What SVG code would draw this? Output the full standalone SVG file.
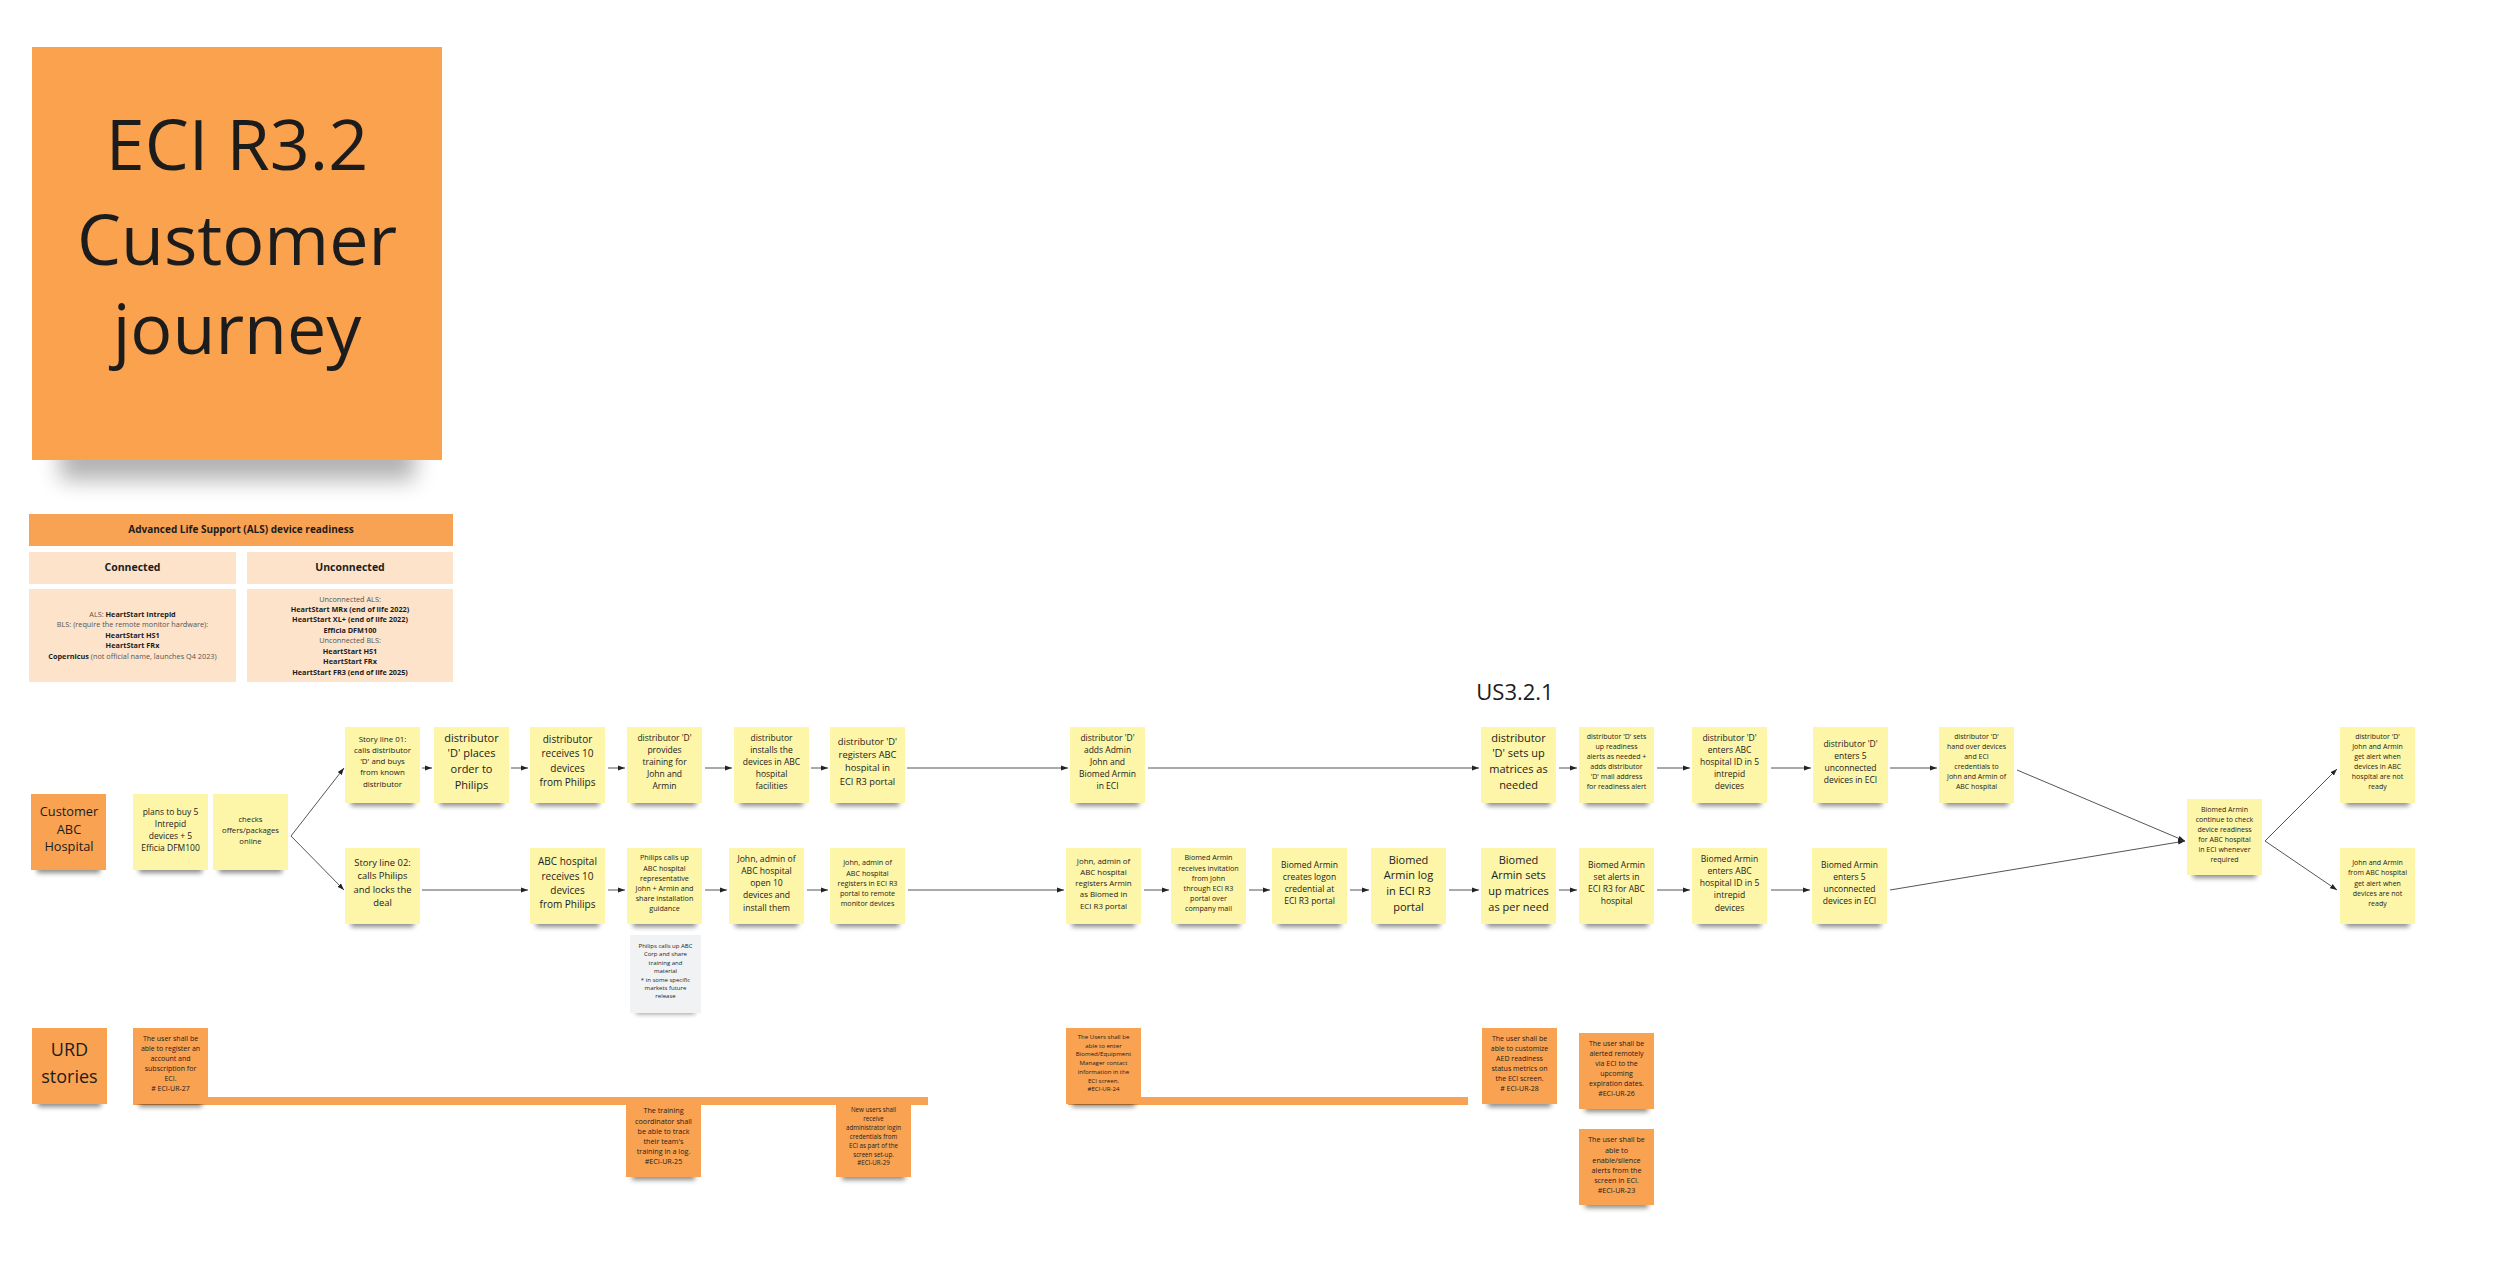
<svg xmlns="http://www.w3.org/2000/svg" xmlns:xlink="http://www.w3.org/1999/xlink" width="2500" height="1262" viewBox="0 0 2500 1262">
<style>
text{font-family:"Open Sans","Noto Sans","Liberation Sans",sans-serif;fill:#1c1c1c;text-anchor:middle}
.b{font-weight:bold}
.g{fill:#555}
.cn{fill:none;stroke:#555;stroke-width:1}
.bar{fill:#F8A253}
.cell{fill:#FDE3C9}
</style>
<defs>
<filter id="bl" x="-30%" y="-100%" width="160%" height="300%"><feGaussianBlur stdDeviation="2.5"/></filter>
<filter id="bl2" x="-30%" y="-100%" width="160%" height="300%"><feGaussianBlur stdDeviation="11"/></filter>
<marker id="ah" markerUnits="userSpaceOnUse" markerWidth="7" markerHeight="6" refX="7" refY="3" orient="auto"><path d="M0,0.5 L7,3 L0,5.5 z" fill="#222"/></marker>
<g id="sy"><rect x="6" y="70" width="63" height="9" fill="#000" opacity="0.45" filter="url(#bl)"/><rect width="75" height="76" fill="#FDF5A8"/></g>
<g id="so"><rect x="6" y="70" width="63" height="9" fill="#000" opacity="0.45" filter="url(#bl)"/><rect width="75" height="76" fill="#F9A252"/></g>
</defs>
<rect width="2500" height="1262" fill="#fff"/>

<g id="title">
<rect x="60" y="438" width="355" height="42" fill="#000" opacity="0.3" filter="url(#bl2)"/>
<rect x="32" y="47" width="410" height="413" fill="#FBA24F"/>
<text x="237" y="170" font-size="70">ECI R3.2</text>
<text x="237" y="265" font-size="70">Customer</text>
<text x="237" y="354" font-size="70">journey</text>
</g>

<g id="als-table">
<rect class="bar" x="29" y="514" width="424" height="32"/>
<text class="b" x="241" y="533" font-size="10">Advanced Life Support (ALS) device readiness</text>
<rect class="cell" x="29" y="552" width="207" height="32"/>
<rect class="cell" x="247" y="552" width="206" height="32"/>
<text class="b" x="132.5" y="571" font-size="10.5">Connected</text>
<text class="b" x="350" y="571" font-size="10.5">Unconnected</text>
<rect class="cell" x="29" y="589" width="207" height="93"/>
<rect class="cell" x="247" y="589" width="206" height="93"/>
<g font-size="7.3">
<text x="132.5" y="616.5"><tspan class="g">ALS: </tspan><tspan class="b">HeartStart Intrepid</tspan></text>
<text x="132.5" y="627" class="g">BLS: (require the remote monitor hardware):</text>
<text x="132.5" y="637.5" class="b">HeartStart HS1</text>
<text x="132.5" y="648" class="b">HeartStart FRx</text>
<text x="132.5" y="658.5"><tspan class="b">Copernicus</tspan><tspan class="g"> (not official name, launches Q4 2023)</tspan></text>
<text x="350" y="601.5" class="g">Unconnected ALS:</text>
<text x="350" y="612" class="b">HeartStart MRx (end of life 2022)</text>
<text x="350" y="622.3" class="b">HeartStart XL+ (end of life 2022)</text>
<text x="350" y="632.6" class="b">Efficia DFM100</text>
<text x="350" y="643.2" class="g">Unconnected BLS:</text>
<text x="350" y="653.5" class="b">HeartStart HS1</text>
<text x="350" y="664.2" class="b">HeartStart FRx</text>
<text x="350" y="674.8" class="b">HeartStart FR3 (end of life 2025)</text>
</g>
</g>

<text id="us-label" x="1515" y="700" font-size="22">US3.2.1</text>

<g id="connectors">
<path class="cn" marker-end="url(#ah)" d="M291,836 L344,768"/>
<path class="cn" marker-end="url(#ah)" d="M291,836 L344,890"/>
<path class="cn" marker-end="url(#ah)" d="M422,768 H432"/>
<path class="cn" marker-end="url(#ah)" d="M511,768 H528"/>
<path class="cn" marker-end="url(#ah)" d="M608,768 H625"/>
<path class="cn" marker-end="url(#ah)" d="M705,768 H732"/>
<path class="cn" marker-end="url(#ah)" d="M811,768 H828"/>
<path class="cn" marker-end="url(#ah)" d="M907,768 H1068"/>
<path class="cn" marker-end="url(#ah)" d="M1148,768 H1479"/>
<path class="cn" marker-end="url(#ah)" d="M1559,768 H1577"/>
<path class="cn" marker-end="url(#ah)" d="M1657,768 H1690"/>
<path class="cn" marker-end="url(#ah)" d="M1771,768 H1811"/>
<path class="cn" marker-end="url(#ah)" d="M1890,768 H1937"/>
<path class="cn" marker-end="url(#ah)" d="M2017,770 L2185,841"/>
<path class="cn" marker-end="url(#ah)" d="M422,890 H528"/>
<path class="cn" marker-end="url(#ah)" d="M608,890 H625"/>
<path class="cn" marker-end="url(#ah)" d="M705,890 H727"/>
<path class="cn" marker-end="url(#ah)" d="M807,890 H828"/>
<path class="cn" marker-end="url(#ah)" d="M908,890 H1064"/>
<path class="cn" marker-end="url(#ah)" d="M1144,890 H1169"/>
<path class="cn" marker-end="url(#ah)" d="M1249,890 H1270"/>
<path class="cn" marker-end="url(#ah)" d="M1350,890 H1369"/>
<path class="cn" marker-end="url(#ah)" d="M1449,890 H1479"/>
<path class="cn" marker-end="url(#ah)" d="M1559,890 H1577"/>
<path class="cn" marker-end="url(#ah)" d="M1657,890 H1690"/>
<path class="cn" marker-end="url(#ah)" d="M1771,890 H1810"/>
<path class="cn" marker-end="url(#ah)" d="M1890,890 L2185,841"/>
<path class="cn" marker-end="url(#ah)" d="M2265,841 L2337,769"/>
<path class="cn" marker-end="url(#ah)" d="M2265,841 L2337,890"/>
</g>

<g id="urd-bars">
<rect class="bar" x="133" y="1097" width="795" height="8"/>
<rect class="bar" x="1068" y="1097" width="400" height="8"/>
</g>

<g id="n-customer"><use xlink:href="#so" x="31" y="794"/><text x="69" y="816" font-size="12.8"><tspan x="69">Customer</tspan><tspan x="69" dy="17.7">ABC</tspan><tspan x="69" dy="17.7">Hospital</tspan></text></g>
<g id="n-plans"><use xlink:href="#sy" x="133" y="794"/><text x="170.5" y="815" font-size="8.5"><tspan x="170.5">plans to buy 5</tspan><tspan x="170.5" dy="12">Intrepid</tspan><tspan x="170.5" dy="12">devices + 5</tspan><tspan x="170.5" dy="12">Efficia DFM100</tspan></text></g>
<g id="n-checks"><use xlink:href="#sy" x="213" y="794"/><text x="250.5" y="821.5" font-size="7.7"><tspan x="250.5">checks</tspan><tspan x="250.5" dy="11">offers/packages</tspan><tspan x="250.5" dy="11">online</tspan></text></g>

<g id="n-story01"><use xlink:href="#sy" x="345" y="727"/><text x="382.5" y="741.5" font-size="7.9"><tspan x="382.5">Story line 01:</tspan><tspan x="382.5" dy="11.3">calls distributor</tspan><tspan x="382.5" dy="11.3">'D' and buys</tspan><tspan x="382.5" dy="11.3">from known</tspan><tspan x="382.5" dy="11.3">distributor</tspan></text></g>
<g id="n-places"><use xlink:href="#sy" x="434" y="727"/><text x="471.5" y="741.5" font-size="11"><tspan x="471.5">distributor</tspan><tspan x="471.5" dy="15.7">'D'  places</tspan><tspan x="471.5" dy="15.7">order to</tspan><tspan x="471.5" dy="15.7">Philips</tspan></text></g>
<g id="n-receives"><use xlink:href="#sy" x="530" y="727"/><text x="567.5" y="743" font-size="10"><tspan x="567.5">distributor</tspan><tspan x="567.5" dy="14.4">receives 10</tspan><tspan x="567.5" dy="14.4">devices</tspan><tspan x="567.5" dy="14.4">from Philips</tspan></text></g>
<g id="n-training"><use xlink:href="#sy" x="627" y="727"/><text x="664.5" y="740.7" font-size="8.5"><tspan x="664.5">distributor 'D'</tspan><tspan x="664.5" dy="12">provides</tspan><tspan x="664.5" dy="12">training for</tspan><tspan x="664.5" dy="12">John and</tspan><tspan x="664.5" dy="12">Armin</tspan></text></g>
<g id="n-installs"><use xlink:href="#sy" x="734" y="727"/><text x="771.5" y="740.7" font-size="8.5"><tspan x="771.5">distributor</tspan><tspan x="771.5" dy="12">installs the</tspan><tspan x="771.5" dy="12">devices in ABC</tspan><tspan x="771.5" dy="12">hospital</tspan><tspan x="771.5" dy="12">facilities</tspan></text></g>
<g id="n-registers"><use xlink:href="#sy" x="830" y="727"/><text x="867.5" y="745" font-size="9.3"><tspan x="867.5">distributor 'D'</tspan><tspan x="867.5" dy="13.2">registers ABC</tspan><tspan x="867.5" dy="13.2">hospital in</tspan><tspan x="867.5" dy="13.2">ECI R3 portal</tspan></text></g>
<g id="n-addadmin"><use xlink:href="#sy" x="1070" y="727"/><text x="1107.5" y="740.7" font-size="8.5"><tspan x="1107.5">distributor 'D'</tspan><tspan x="1107.5" dy="12">adds Admin</tspan><tspan x="1107.5" dy="12">John and</tspan><tspan x="1107.5" dy="12">Biomed Armin</tspan><tspan x="1107.5" dy="12">in ECI</tspan></text></g>
<g id="n-matrices"><use xlink:href="#sy" x="1481" y="727"/><text x="1518.5" y="741.5" font-size="11"><tspan x="1518.5">distributor</tspan><tspan x="1518.5" dy="15.7">'D' sets up</tspan><tspan x="1518.5" dy="15.7">matrices as</tspan><tspan x="1518.5" dy="15.7">needed</tspan></text></g>
<g id="n-readiness"><use xlink:href="#sy" x="1579" y="727"/><text x="1616.5" y="739.2" font-size="7"><tspan x="1616.5">distributor 'D' sets</tspan><tspan x="1616.5" dy="10">up readiness</tspan><tspan x="1616.5" dy="10">alerts as needed +</tspan><tspan x="1616.5" dy="10">adds distributor</tspan><tspan x="1616.5" dy="10">'D' mail address</tspan><tspan x="1616.5" dy="10">for readiness alert</tspan></text></g>
<g id="n-entersabc"><use xlink:href="#sy" x="1692" y="727"/><text x="1729.5" y="740.7" font-size="8.5"><tspan x="1729.5">distributor 'D'</tspan><tspan x="1729.5" dy="12">enters ABC</tspan><tspan x="1729.5" dy="12">hospital ID in 5</tspan><tspan x="1729.5" dy="12">intrepid</tspan><tspan x="1729.5" dy="12">devices</tspan></text></g>
<g id="n-enters5"><use xlink:href="#sy" x="1813" y="727"/><text x="1850.5" y="746.7" font-size="8.5"><tspan x="1850.5">distributor 'D'</tspan><tspan x="1850.5" dy="12">enters  5</tspan><tspan x="1850.5" dy="12">unconnected</tspan><tspan x="1850.5" dy="12">devices in ECI</tspan></text></g>
<g id="n-handover"><use xlink:href="#sy" x="1939" y="727"/><text x="1976.5" y="739.2" font-size="7"><tspan x="1976.5">distributor 'D'</tspan><tspan x="1976.5" dy="10">hand over devices</tspan><tspan x="1976.5" dy="10">and ECI</tspan><tspan x="1976.5" dy="10">credentials to</tspan><tspan x="1976.5" dy="10">John and Armin of</tspan><tspan x="1976.5" dy="10">ABC hospital</tspan></text></g>
<g id="n-continue"><use xlink:href="#sy" x="2187" y="799"/><text x="2224.5" y="812.2" font-size="7"><tspan x="2224.5">Biomed Armin</tspan><tspan x="2224.5" dy="10">continue to check</tspan><tspan x="2224.5" dy="10">device readiness</tspan><tspan x="2224.5" dy="10">for ABC hospital</tspan><tspan x="2224.5" dy="10">in ECI whenever</tspan><tspan x="2224.5" dy="10">required</tspan></text></g>
<g id="n-alert1"><use xlink:href="#sy" x="2340" y="727"/><text x="2377.5" y="739.2" font-size="7"><tspan x="2377.5">distributor 'D'</tspan><tspan x="2377.5" dy="10">John and Armin</tspan><tspan x="2377.5" dy="10">get alert when</tspan><tspan x="2377.5" dy="10">devices in ABC</tspan><tspan x="2377.5" dy="10">hospital are not</tspan><tspan x="2377.5" dy="10">ready</tspan></text></g>
<g id="n-alert2"><use xlink:href="#sy" x="2340" y="848"/><text x="2377.5" y="865.2" font-size="7"><tspan x="2377.5">John and Armin</tspan><tspan x="2377.5" dy="10.2">from ABC hospital</tspan><tspan x="2377.5" dy="10.2">get alert when</tspan><tspan x="2377.5" dy="10.2">devices are not</tspan><tspan x="2377.5" dy="10.2">ready</tspan></text></g>

<g id="n-story02"><use xlink:href="#sy" x="345" y="848"/><text x="382.5" y="866" font-size="9.4"><tspan x="382.5">Story line 02:</tspan><tspan x="382.5" dy="13.3">calls Philips</tspan><tspan x="382.5" dy="13.3">and locks the</tspan><tspan x="382.5" dy="13.3">deal</tspan></text></g>
<g id="n-abcreceives"><use xlink:href="#sy" x="530" y="848"/><text x="567.5" y="865.2" font-size="10"><tspan x="567.5">ABC hospital</tspan><tspan x="567.5" dy="14.4">receives 10</tspan><tspan x="567.5" dy="14.4">devices</tspan><tspan x="567.5" dy="14.4">from Philips</tspan></text></g>
<g id="n-philipscalls"><use xlink:href="#sy" x="627" y="848"/><text x="664.5" y="860.3" font-size="7.2"><tspan x="664.5">Philips calls up</tspan><tspan x="664.5" dy="10.2">ABC hospital</tspan><tspan x="664.5" dy="10.2">representative</tspan><tspan x="664.5" dy="10.2">John + Armin and</tspan><tspan x="664.5" dy="10.2">share installation</tspan><tspan x="664.5" dy="10.2">guidance</tspan></text></g>
<g id="n-johnopen"><use xlink:href="#sy" x="729" y="848"/><text x="766.5" y="861.8" font-size="8.6"><tspan x="766.5">John, admin of</tspan><tspan x="766.5" dy="12.2">ABC hospital</tspan><tspan x="766.5" dy="12.2">open 10</tspan><tspan x="766.5" dy="12.2">devices and</tspan><tspan x="766.5" dy="12.2">install them</tspan></text></g>
<g id="n-johnremote"><use xlink:href="#sy" x="830" y="848"/><text x="867.5" y="865.3" font-size="7.2"><tspan x="867.5">John, admin of</tspan><tspan x="867.5" dy="10.2">ABC hospital</tspan><tspan x="867.5" dy="10.2">registers in ECI R3</tspan><tspan x="867.5" dy="10.2">portal to remote</tspan><tspan x="867.5" dy="10.2">monitor devices</tspan></text></g>
<g id="n-johnarmin"><use xlink:href="#sy" x="1066" y="848"/><text x="1103.5" y="863.5" font-size="7.9"><tspan x="1103.5">John, admin of</tspan><tspan x="1103.5" dy="11.3">ABC hospital</tspan><tspan x="1103.5" dy="11.3">registers Armin</tspan><tspan x="1103.5" dy="11.3">as Biomed in</tspan><tspan x="1103.5" dy="11.3">ECI R3 portal</tspan></text></g>
<g id="n-invitation"><use xlink:href="#sy" x="1171" y="848"/><text x="1208.5" y="860.3" font-size="7.2"><tspan x="1208.5">Biomed Armin</tspan><tspan x="1208.5" dy="10.2">receives invitation</tspan><tspan x="1208.5" dy="10.2">from John</tspan><tspan x="1208.5" dy="10.2">through ECI R3</tspan><tspan x="1208.5" dy="10.2">portal over</tspan><tspan x="1208.5" dy="10.2">company mail</tspan></text></g>
<g id="n-logon"><use xlink:href="#sy" x="1272" y="848"/><text x="1309.5" y="867.7" font-size="8.5"><tspan x="1309.5">Biomed Armin</tspan><tspan x="1309.5" dy="12">creates logon</tspan><tspan x="1309.5" dy="12">credential at</tspan><tspan x="1309.5" dy="12">ECI R3 portal</tspan></text></g>
<g id="n-login"><use xlink:href="#sy" x="1371" y="848"/><text x="1408.5" y="863.5" font-size="11"><tspan x="1408.5">Biomed</tspan><tspan x="1408.5" dy="15.8">Armin log</tspan><tspan x="1408.5" dy="15.8">in ECI R3</tspan><tspan x="1408.5" dy="15.8">portal</tspan></text></g>
<g id="n-bmatrices"><use xlink:href="#sy" x="1481" y="848"/><text x="1518.5" y="863.5" font-size="11"><tspan x="1518.5">Biomed</tspan><tspan x="1518.5" dy="15.8">Armin sets</tspan><tspan x="1518.5" dy="15.8">up matrices</tspan><tspan x="1518.5" dy="15.8">as per need</tspan></text></g>
<g id="n-setalerts"><use xlink:href="#sy" x="1579" y="848"/><text x="1616.5" y="867.7" font-size="8.5"><tspan x="1616.5">Biomed Armin</tspan><tspan x="1616.5" dy="12">set alerts in</tspan><tspan x="1616.5" dy="12">ECI R3 for ABC</tspan><tspan x="1616.5" dy="12">hospital</tspan></text></g>
<g id="n-bentersabc"><use xlink:href="#sy" x="1692" y="848"/><text x="1729.5" y="861.8" font-size="8.6"><tspan x="1729.5">Biomed Armin</tspan><tspan x="1729.5" dy="12.2">enters ABC</tspan><tspan x="1729.5" dy="12.2">hospital ID in 5</tspan><tspan x="1729.5" dy="12.2">intrepid</tspan><tspan x="1729.5" dy="12.2">devices</tspan></text></g>
<g id="n-benters5"><use xlink:href="#sy" x="1812" y="848"/><text x="1849.5" y="867.7" font-size="8.5"><tspan x="1849.5">Biomed Armin</tspan><tspan x="1849.5" dy="12">enters 5</tspan><tspan x="1849.5" dy="12">unconnected</tspan><tspan x="1849.5" dy="12">devices in ECI</tspan></text></g>

<g id="n-note">
<rect x="636" y="1005" width="59" height="9" fill="#000" opacity="0.4" filter="url(#bl)"/>
<rect x="630" y="935" width="71" height="78" fill="#F1F2F4"/>
<text x="665.5" y="948" font-size="6" fill="#333"><tspan x="665.5">Philips calls up ABC</tspan><tspan x="665.5" dy="8.4">Corp and share</tspan><tspan x="665.5" dy="8.4">training and</tspan><tspan x="665.5" dy="8.4">material</tspan><tspan x="665.5" dy="8.4">* in some specific</tspan><tspan x="665.5" dy="8.4">markets future</tspan><tspan x="665.5" dy="8.4">release</tspan></text>
</g>

<g id="n-urd"><use xlink:href="#so" x="32" y="1028"/><text x="69.5" y="1055.8" font-size="18"><tspan x="69.5">URD</tspan><tspan x="69.5" dy="27">stories</tspan></text></g>
<g id="n-ur27"><use xlink:href="#so" x="133" y="1028"/><text x="170.5" y="1041.2" font-size="7"><tspan x="170.5">The   user shall be</tspan><tspan x="170.5" dy="10">able to register an</tspan><tspan x="170.5" dy="10">account and</tspan><tspan x="170.5" dy="10">subscription for</tspan><tspan x="170.5" dy="10">ECI.</tspan><tspan x="170.5" dy="10"># ECI-UR-27</tspan></text></g>
<g id="n-ur25"><use xlink:href="#so" x="626" y="1101"/><text x="663.5" y="1113.3" font-size="7.2"><tspan x="663.5">The training</tspan><tspan x="663.5" dy="10.2">coordinator shall</tspan><tspan x="663.5" dy="10.2">be able to track</tspan><tspan x="663.5" dy="10.2">their team's</tspan><tspan x="663.5" dy="10.2">training in a log.</tspan><tspan x="663.5" dy="10.2">#ECI-UR-25</tspan></text></g>
<g id="n-ur29"><use xlink:href="#so" x="836" y="1101"/><text x="873.5" y="1112" font-size="6.2"><tspan x="873.5">New users  shall</tspan><tspan x="873.5" dy="8.9">receive</tspan><tspan x="873.5" dy="8.9">administrator login</tspan><tspan x="873.5" dy="8.9">credentials  from</tspan><tspan x="873.5" dy="8.9">ECI as part of the</tspan><tspan x="873.5" dy="8.9">screen set-up.</tspan><tspan x="873.5" dy="8.9">#ECI-UR-29</tspan></text></g>
<g id="n-ur24"><use xlink:href="#so" x="1066" y="1028"/><text x="1103.5" y="1039" font-size="6.1"><tspan x="1103.5">The Users shall be</tspan><tspan x="1103.5" dy="8.7">able to enter</tspan><tspan x="1103.5" dy="8.7">Biomed/Equipment</tspan><tspan x="1103.5" dy="8.7">Manager contact</tspan><tspan x="1103.5" dy="8.7">information in the</tspan><tspan x="1103.5" dy="8.7">ECI screen.</tspan><tspan x="1103.5" dy="8.7">#ECI-UR-24</tspan></text></g>
<g id="n-ur28"><use xlink:href="#so" x="1482" y="1028"/><text x="1519.5" y="1041.2" font-size="7"><tspan x="1519.5">The user shall be</tspan><tspan x="1519.5" dy="10">able to customize</tspan><tspan x="1519.5" dy="10">AED readiness</tspan><tspan x="1519.5" dy="10">status metrics on</tspan><tspan x="1519.5" dy="10">the ECI screen.</tspan><tspan x="1519.5" dy="10"># ECI-UR-28</tspan></text></g>
<g id="n-ur26"><use xlink:href="#so" x="1579" y="1033"/><text x="1616.5" y="1046.2" font-size="7"><tspan x="1616.5">The user shall be</tspan><tspan x="1616.5" dy="10">alerted remotely</tspan><tspan x="1616.5" dy="10">via ECI to the</tspan><tspan x="1616.5" dy="10">upcoming</tspan><tspan x="1616.5" dy="10">expiration dates.</tspan><tspan x="1616.5" dy="10">#ECI-UR-26</tspan></text></g>
<g id="n-ur23"><use xlink:href="#so" x="1579" y="1129"/><text x="1616.5" y="1142.3" font-size="7.2"><tspan x="1616.5">The user shall be</tspan><tspan x="1616.5" dy="10.2">able to</tspan><tspan x="1616.5" dy="10.2">enable/silence</tspan><tspan x="1616.5" dy="10.2">alerts from the</tspan><tspan x="1616.5" dy="10.2">screen in ECI.</tspan><tspan x="1616.5" dy="10.2">#ECI-UR-23</tspan></text></g>
</svg>
